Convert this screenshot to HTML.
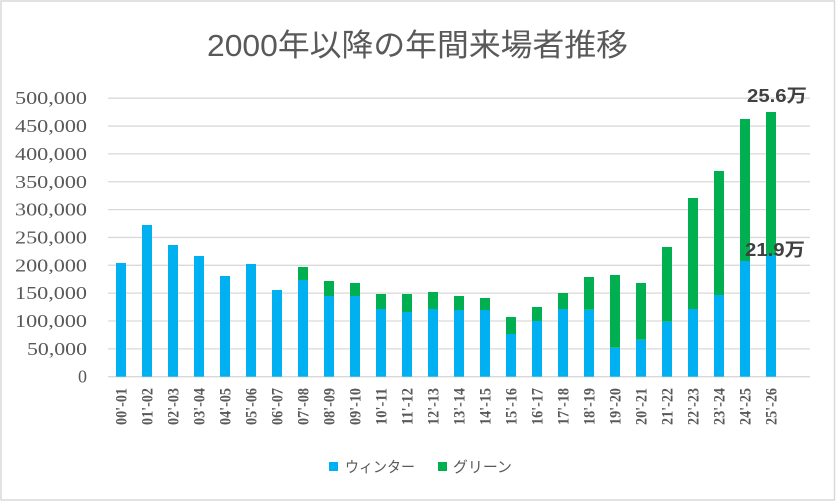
<!DOCTYPE html>
<html><head><meta charset="utf-8"><style>
html,body{margin:0;padding:0;background:#fff;}
svg{display:block;}
</style></head><body>
<svg width="836" height="502" viewBox="0 0 836 502" xmlns="http://www.w3.org/2000/svg">
<rect x="1" y="1" width="833.5" height="499" fill="#fff" stroke="#d9d9d9" stroke-width="1.5"/>
<text x="417.5" y="56" text-anchor="middle" font-family="Liberation Sans, Noto Sans CJK JP, sans-serif" font-size="31" fill="#595959" textLength="421" lengthAdjust="spacingAndGlyphs">2000年以降の年間来場者推移</text>
<g stroke="#d9d9d9" stroke-width="1.3">
<line x1="108" x2="810" y1="98.2" y2="98.2"/>
<line x1="108" x2="810" y1="126.05" y2="126.05"/>
<line x1="108" x2="810" y1="153.9" y2="153.9"/>
<line x1="108" x2="810" y1="181.75" y2="181.75"/>
<line x1="108" x2="810" y1="209.6" y2="209.6"/>
<line x1="108" x2="810" y1="237.45" y2="237.45"/>
<line x1="108" x2="810" y1="265.3" y2="265.3"/>
<line x1="108" x2="810" y1="293.15" y2="293.15"/>
<line x1="108" x2="810" y1="321" y2="321"/>
<line x1="108" x2="810" y1="348.85" y2="348.85"/>
<line x1="108" x2="810" y1="376.7" y2="376.7"/>
</g>
<g font-family="Liberation Serif, serif" font-size="18" fill="#595959" text-anchor="end">
<text x="87" y="104.2" textLength="72" lengthAdjust="spacingAndGlyphs">500,000</text>
<text x="87" y="132.05" textLength="72" lengthAdjust="spacingAndGlyphs">450,000</text>
<text x="87" y="159.9" textLength="72" lengthAdjust="spacingAndGlyphs">400,000</text>
<text x="87" y="187.75" textLength="72" lengthAdjust="spacingAndGlyphs">350,000</text>
<text x="87" y="215.6" textLength="72" lengthAdjust="spacingAndGlyphs">300,000</text>
<text x="87" y="243.45" textLength="72" lengthAdjust="spacingAndGlyphs">250,000</text>
<text x="87" y="271.3" textLength="72" lengthAdjust="spacingAndGlyphs">200,000</text>
<text x="87" y="299.15" textLength="72" lengthAdjust="spacingAndGlyphs">150,000</text>
<text x="87" y="327" textLength="72" lengthAdjust="spacingAndGlyphs">100,000</text>
<text x="87" y="354.85" textLength="60" lengthAdjust="spacingAndGlyphs">50,000</text>
<text x="87" y="382.7">0</text>
</g>
<g>
<g fill="#00B0F0">
<rect x="116" y="263" width="10" height="113.7"/>
<rect x="142" y="225" width="10" height="151.7"/>
<rect x="168" y="245" width="10" height="131.7"/>
<rect x="194" y="256" width="10" height="120.7"/>
<rect x="220" y="276" width="10" height="100.7"/>
<rect x="246" y="264" width="10" height="112.7"/>
<rect x="272" y="290" width="10" height="86.7"/>
<rect x="298" y="280" width="10" height="96.7"/>
<rect x="324" y="296" width="10" height="80.7"/>
<rect x="350" y="296" width="10" height="80.7"/>
<rect x="376" y="309" width="10" height="67.7"/>
<rect x="402" y="312" width="10" height="64.7"/>
<rect x="428" y="309" width="10" height="67.7"/>
<rect x="454" y="310" width="10" height="66.7"/>
<rect x="480" y="310" width="10" height="66.7"/>
<rect x="506" y="334" width="10" height="42.7"/>
<rect x="532" y="321" width="10" height="55.7"/>
<rect x="558" y="309" width="10" height="67.7"/>
<rect x="584" y="309.7" width="10" height="67"/>
<rect x="610" y="347.7" width="10" height="29"/>
<rect x="636" y="339.7" width="10" height="37"/>
<rect x="662" y="321.7" width="10" height="55"/>
<rect x="688" y="309" width="10" height="67.7"/>
<rect x="714" y="295" width="10" height="81.7"/>
<rect x="740" y="261" width="10" height="115.7"/>
<rect x="766" y="255" width="10" height="121.7"/>
</g>
<g fill="#00B050">
<rect x="298" y="267" width="10" height="13"/>
<rect x="324" y="281" width="10" height="15"/>
<rect x="350" y="283" width="10" height="13"/>
<rect x="376" y="294" width="10" height="15"/>
<rect x="402" y="294" width="10" height="18"/>
<rect x="428" y="292" width="10" height="17"/>
<rect x="454" y="296" width="10" height="14"/>
<rect x="480" y="298" width="10" height="12"/>
<rect x="506" y="317" width="10" height="17"/>
<rect x="532" y="307" width="10" height="14"/>
<rect x="558" y="293" width="10" height="16"/>
<rect x="584" y="277" width="10" height="32.7"/>
<rect x="610" y="275" width="10" height="72.7"/>
<rect x="636" y="283" width="10" height="56.7"/>
<rect x="662" y="247" width="10" height="74.7"/>
<rect x="688" y="198" width="10" height="111"/>
<rect x="714" y="171" width="10" height="124"/>
<rect x="740" y="119" width="10" height="142"/>
<rect x="766" y="112" width="10" height="143"/>
</g>
</g>
<g font-family="Liberation Serif, serif" font-size="16" font-weight="bold" fill="#595959" text-anchor="end">
<text transform="translate(126.5,388) rotate(-90)" textLength="37" lengthAdjust="spacingAndGlyphs">00'-01</text>
<text transform="translate(152.5,388) rotate(-90)" textLength="37" lengthAdjust="spacingAndGlyphs">01'-02</text>
<text transform="translate(178.5,388) rotate(-90)" textLength="37" lengthAdjust="spacingAndGlyphs">02'-03</text>
<text transform="translate(204.5,388) rotate(-90)" textLength="37" lengthAdjust="spacingAndGlyphs">03'-04</text>
<text transform="translate(230.5,388) rotate(-90)" textLength="37" lengthAdjust="spacingAndGlyphs">04'-05</text>
<text transform="translate(256.5,388) rotate(-90)" textLength="37" lengthAdjust="spacingAndGlyphs">05'-06</text>
<text transform="translate(282.5,388) rotate(-90)" textLength="37" lengthAdjust="spacingAndGlyphs">06'-07</text>
<text transform="translate(308.5,388) rotate(-90)" textLength="37" lengthAdjust="spacingAndGlyphs">07'-08</text>
<text transform="translate(334.5,388) rotate(-90)" textLength="37" lengthAdjust="spacingAndGlyphs">08'-09</text>
<text transform="translate(360.5,388) rotate(-90)" textLength="37" lengthAdjust="spacingAndGlyphs">09'-10</text>
<text transform="translate(386.5,388) rotate(-90)" textLength="37" lengthAdjust="spacingAndGlyphs">10'-11</text>
<text transform="translate(412.5,388) rotate(-90)" textLength="37" lengthAdjust="spacingAndGlyphs">11'-12</text>
<text transform="translate(438.5,388) rotate(-90)" textLength="37" lengthAdjust="spacingAndGlyphs">12'-13</text>
<text transform="translate(464.5,388) rotate(-90)" textLength="37" lengthAdjust="spacingAndGlyphs">13'-14</text>
<text transform="translate(490.5,388) rotate(-90)" textLength="37" lengthAdjust="spacingAndGlyphs">14'-15</text>
<text transform="translate(516.5,388) rotate(-90)" textLength="37" lengthAdjust="spacingAndGlyphs">15'-16</text>
<text transform="translate(542.5,388) rotate(-90)" textLength="37" lengthAdjust="spacingAndGlyphs">16'-17</text>
<text transform="translate(568.5,388) rotate(-90)" textLength="37" lengthAdjust="spacingAndGlyphs">17'-18</text>
<text transform="translate(594.5,388) rotate(-90)" textLength="37" lengthAdjust="spacingAndGlyphs">18'-19</text>
<text transform="translate(620.5,388) rotate(-90)" textLength="37" lengthAdjust="spacingAndGlyphs">19'-20</text>
<text transform="translate(646.5,388) rotate(-90)" textLength="37" lengthAdjust="spacingAndGlyphs">20'-21</text>
<text transform="translate(672.5,388) rotate(-90)" textLength="37" lengthAdjust="spacingAndGlyphs">21'-22</text>
<text transform="translate(698.5,388) rotate(-90)" textLength="37" lengthAdjust="spacingAndGlyphs">22'-23</text>
<text transform="translate(724.5,388) rotate(-90)" textLength="37" lengthAdjust="spacingAndGlyphs">23'-24</text>
<text transform="translate(750.5,388) rotate(-90)" textLength="37" lengthAdjust="spacingAndGlyphs">24'-25</text>
<text transform="translate(776.5,388) rotate(-90)" textLength="37" lengthAdjust="spacingAndGlyphs">25'-26</text>
</g>
<g font-family="Liberation Sans, Noto Sans CJK JP, sans-serif" font-size="18" font-weight="bold" fill="#404040">
<text x="747" y="102" textLength="60" lengthAdjust="spacingAndGlyphs">25.6万</text>
<text x="745" y="256" textLength="60" lengthAdjust="spacingAndGlyphs">21.9万</text>
</g>
<rect x="329" y="462" width="9" height="9" fill="#00B0F0"/>
<text x="345" y="472" font-family="Liberation Sans, Noto Sans CJK JP, sans-serif" font-size="15" fill="#595959" textLength="70" lengthAdjust="spacingAndGlyphs">ウィンター</text>
<rect x="438" y="462" width="9" height="9" fill="#00B050"/>
<text x="453" y="472" font-family="Liberation Sans, Noto Sans CJK JP, sans-serif" font-size="15" fill="#595959" textLength="59" lengthAdjust="spacingAndGlyphs">グリーン</text>
</svg>
</body></html>
